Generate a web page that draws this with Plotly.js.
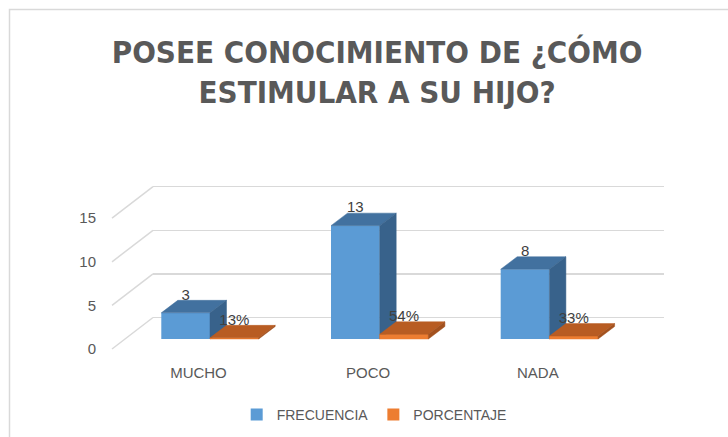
<!DOCTYPE html>
<html><head><meta charset="utf-8">
<script src="https://cdn.plot.ly/plotly-3.0.1.min.js"></script>
<style>html,body{margin:0;padding:0;background:#fff}</style>
</head><body><div id="chart" style="width:728px;height:437px"></div>
<script>
const categories = ['MUCHO', 'POCO', 'NADA'];
const frecuencia = [3, 13, 8];
const porcentaje = [0.13, 0.54, 0.33];
const seriesNames = ['FRECUENCIA', 'PORCENTAJE'];
const yTicks = [0, 5, 10, 15];

const W = 728, H = 437;
const X0PX = 210, XPPU = 169.7;
const Y0PX = 339, YPPU = 8.72;
const BACK_PX = 21.5, FRONT_PX = 10;
const barW = 48.7 / XPPU, DX = 16.5 / XPPU, DY = 12.5 / YPPU, LBL = 3 / YPPU;
const xr = [-X0PX / XPPU, (W - X0PX) / XPPU];
const ylo = -10, yhi = 28;
const ydom = [1 - (Y0PX - ylo * YPPU) / H, 1 - (Y0PX - yhi * YPPU) / H];

const C = {
  blue: '#5B9BD5', blueTop: '#42719F', blueSide: '#38628B',
  orange: '#ED7D31', orangeTop: '#B85C22', orangeSide: '#A3511E',
  text: '#595959', label: '#404040', grid: '#D9D9D9'
};
const FONT = 'Liberation Sans, Arial, sans-serif';

function push(o, pts) {
  pts.forEach(p => { o.x.push(p[0]); o.y.push(p[1]); });
  o.x.push(pts[0][0]); o.y.push(pts[0][1]);
  o.x.push(null); o.y.push(null);
}
function faces(vals, off) {
  const top = {x: [], y: []}, side = {x: [], y: []}, front = {x: [], y: []};
  vals.forEach((v, i) => {
    const x0 = i + off, x1 = x0 + barW;
    push(front, [[x0, 0], [x1, 0], [x1, v], [x0, v]]);
    push(top, [[x0, v], [x1, v], [x1 + DX, v + DY], [x0 + DX, v + DY]]);
    push(side, [[x1, 0], [x1, v], [x1 + DX, v + DY], [x1 + DX, DY]]);
  });
  return {top, side, front};
}
function poly(f, color) {
  return {type: 'scatter', mode: 'lines', x: f.x, y: f.y, fill: 'toself', fillcolor: color,
    line: {width: 0.5, color: color}, xaxis: 'x2', yaxis: 'y2', showlegend: false, hoverinfo: 'skip'};
}
const idx = categories.map((c, i) => i);
const fb = faces(frecuencia, -barW);
const fo = faces(porcentaje, 0);

const traces = [
  {type: 'scatter', x: [null], y: [null], xaxis: 'x', yaxis: 'y', showlegend: false, hoverinfo: 'skip'},
  {type: 'bar', name: seriesNames[0], x: idx, y: frecuencia, width: barW, offset: -barW,
    marker: {color: C.blue}, xaxis: 'x2', yaxis: 'y2', hoverinfo: 'skip'},
  {type: 'bar', name: seriesNames[1], x: idx, y: porcentaje, width: barW, offset: 0,
    marker: {color: C.orange}, xaxis: 'x2', yaxis: 'y2', hoverinfo: 'skip'},
  poly(fb.top, C.blueTop),
  poly(fb.side, C.blueSide),
  poly(fo.front, C.orange),
  poly(fo.top, C.orangeTop),
  poly(fo.side, C.orangeSide),
  {type: 'scatter', mode: 'text', x: idx.map(i => i - barW / 2), y: frecuencia.map(v => v + DY - LBL),
    text: frecuencia.map(String), textposition: 'top center',
    textfont: {family: FONT, size: 15, color: C.label}, xaxis: 'x2', yaxis: 'y2', showlegend: false, hoverinfo: 'skip', cliponaxis: false},
  {type: 'scatter', mode: 'text', x: idx.map(i => i + barW / 2), y: porcentaje.map(v => v + DY - LBL),
    text: porcentaje.map(v => Math.round(v * 100) + '%'), textposition: 'top center',
    textfont: {family: FONT, size: 15, color: C.label}, xaxis: 'x2', yaxis: 'y2', showlegend: false, hoverinfo: 'skip', cliponaxis: false}
];

const shapes = yTicks.map(v => ({
  type: 'line', layer: 'below', xref: 'paper', yref: 'y2',
  x0: 112 / W, y0: v - FRONT_PX / YPPU, x1: 153 / W, y1: v + BACK_PX / YPPU,
  line: {color: C.grid, width: 1.5}
}));
shapes.push({type: 'rect', xref: 'paper', yref: 'paper', x0: 9.5 / W, x1: 1.1, y0: -0.1, y1: 1 - 9.5 / H,
  line: {color: C.grid, width: 1.5}, fillcolor: 'rgba(0,0,0,0)'});

const layout = {
  width: W, height: H,
  margin: {l: 0, r: 0, t: 0, b: 0, pad: 0},
  paper_bgcolor: '#ffffff', plot_bgcolor: 'rgba(0,0,0,0)',
  hovermode: false, barmode: 'overlay',
  title: {
    text: 'POSEE CONOCIMIENTO DE ¿CÓMO<br>ESTIMULAR A SU HIJO?',
    x: 0.518, xanchor: 'center', xref: 'container', y: 1 - 63 / H, yanchor: 'top', yref: 'container',
    font: {family: 'DejaVu Sans Condensed, DejaVu Sans, sans-serif', size: 31, color: C.text, weight: 'bold'}
  },
  xaxis: {domain: [153 / W, 664 / W], range: [0, 1], anchor: 'y', visible: false, fixedrange: true},
  yaxis: {domain: ydom, anchor: 'x', range: [ylo - BACK_PX / YPPU, yhi - BACK_PX / YPPU],
    tickvals: yTicks, showticklabels: false, ticks: '', showgrid: true, gridcolor: C.grid, gridwidth: 1.5,
    zeroline: false, showline: false, fixedrange: true},
  xaxis2: {domain: [0, 1], anchor: 'free', position: 1 - 362 / H, range: xr,
    tickvals: idx.map(i => i - 0.068), ticktext: categories, ticks: '', showgrid: false, zeroline: false, showline: false,
    tickfont: {family: FONT, size: 15, color: C.text}, fixedrange: true},
  yaxis2: {domain: ydom, anchor: 'free', position: 96 / W, range: [ylo, yhi],
    tickvals: yTicks, ticktext: yTicks.map(String), ticklabelshift: FRONT_PX, ticks: '', showgrid: false,
    zeroline: false, showline: false, tickfont: {family: FONT, size: 15, color: C.text}, fixedrange: true},
  legend: {orientation: 'h', x: 0.514, xanchor: 'center', y: 1 - 415 / H, yanchor: 'middle',
    font: {family: FONT, size: 14, color: C.text}, bgcolor: 'rgba(0,0,0,0)'},
  shapes: shapes
};

Plotly.newPlot('chart', traces, layout, {displayModeBar: false, staticPlot: true});
</script>
</body></html>
